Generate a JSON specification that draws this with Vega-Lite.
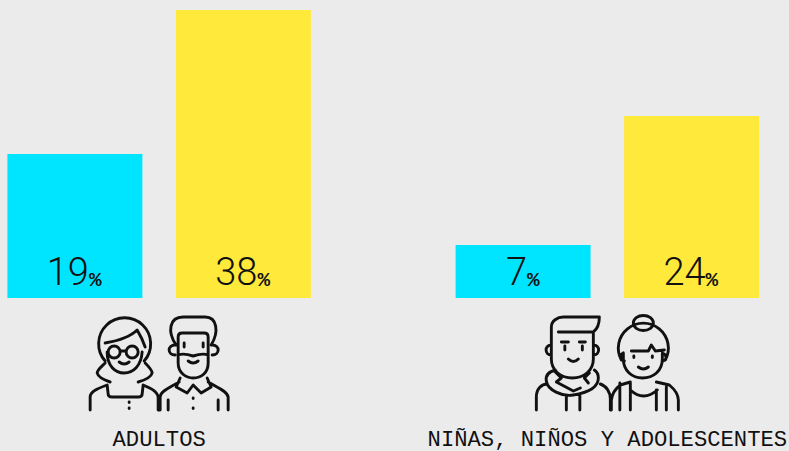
{
"$schema":"https://vega.github.io/schema/vega-lite/v6.json",
"width":766.5,"height":288,
"autosize":{"type":"none"},
"padding":{"left":0,"right":22.5,"top":10,"bottom":153},
"background":"#ebebeb",
"config":{"view":{"stroke":null}},
"datasets":{
"bars":[
{"grupo":"ADULTOS","serie":"A","valor":19},
{"grupo":"ADULTOS","serie":"B","valor":38},
{"grupo":"NIÑAS, NIÑOS Y ADOLESCENTES","serie":"A","valor":7},
{"grupo":"NIÑAS, NIÑOS Y ADOLESCENTES","serie":"B","valor":24}],
"iconos":[{"grupo":"ADULTOS"},{"grupo":"NIÑAS, NIÑOS Y ADOLESCENTES"}]
},
"encoding":{
"x":{"field":"grupo","type":"nominal","sort":null,"title":null,
"scale":{"type":"band","paddingInner":0.3228,"paddingOuter":0.0165},
"axis":{"domain":false,"ticks":false,"grid":false,"labelAngle":0,"labelPadding":129,"labelFont":"Liberation Mono","labelFontSize":22.2,"labelColor":"#111111","labelBaseline":"top","labelBound":false,"labelFlush":false,"labelOverlap":false,"labelLimit":0}},
"y":{"type":"quantitative","scale":{"domain":[0,38]},"axis":null}
},
"layer":[
{"data":{"name":"bars"},"mark":{"type":"bar"},
"encoding":{"xOffset":{"field":"serie","type":"nominal","scale":{"paddingInner":0.199,"paddingOuter":0}},
"y":{"field":"valor","type":"quantitative","scale":{"domain":[0,38]},"axis":null},
"color":{"field":"serie","type":"nominal","legend":null,"scale":{"domain":["A","B"],"range":["#00e5ff","#ffe93b"]}}}},
{"data":{"name":"bars"},"transform":[{"filter":"datum.valor>=10"}],
"mark":{"type":"text","font":"Roboto","fontWeight":300,"fontSize":38,"align":"right","baseline":"alphabetic","dx":14,"dy":-13,"color":"#111111"},
"encoding":{"xOffset":{"field":"serie","type":"nominal","scale":{"paddingInner":0.199,"paddingOuter":0}},"y":{"datum":0},"text":{"field":"valor","type":"nominal"}}},
{"data":{"name":"bars"},"transform":[{"filter":"datum.valor<10"}],
"mark":{"type":"text","font":"Roboto","fontWeight":300,"fontSize":38,"align":"right","baseline":"alphabetic","dx":4,"dy":-13,"color":"#111111"},
"encoding":{"xOffset":{"field":"serie","type":"nominal","scale":{"paddingInner":0.199,"paddingOuter":0}},"y":{"datum":0},"text":{"field":"valor","type":"nominal"}}},
{"data":{"name":"bars"},"transform":[{"filter":"datum.valor>=10"}],
"mark":{"type":"text","font":"Liberation Mono","fontWeight":700,"fontSize":21,"align":"left","baseline":"alphabetic","dx":14,"dy":-12,"color":"#111111","text":"%"},
"encoding":{"xOffset":{"field":"serie","type":"nominal","scale":{"paddingInner":0.199,"paddingOuter":0}},"y":{"datum":0}}},
{"data":{"name":"bars"},"transform":[{"filter":"datum.valor<10"}],
"mark":{"type":"text","font":"Liberation Mono","fontWeight":700,"fontSize":21,"align":"left","baseline":"alphabetic","dx":4,"dy":-12,"color":"#111111","text":"%"},
"encoding":{"xOffset":{"field":"serie","type":"nominal","scale":{"paddingInner":0.199,"paddingOuter":0}},"y":{"datum":0}}},
{"data":{"name":"iconos"},
"mark":{"type":"point","filled":false,"size":4,"yOffset":66,"stroke":"#111111","strokeWidth":2.9,"opacity":1,"strokeCap":"round","strokeJoin":"round"},
"encoding":{"y":{"datum":0},
"shape":{"field":"grupo","type":"nominal","legend":null,"scale":{"domain":["ADULTOS","NIÑAS, NIÑOS Y ADOLESCENTES"],"range":[
"M-54,-3 A26,26 0 1 1 -15,-3 M-54,-1 C-58,3 -62,6 -62,9 C-61,13 -55,16 -49,18 M-14,-1 C-10,3 -7,6 -7,9 C-8,13 -14,16 -21,18 M-54,-21 C-42,-23 -30,-26 -22,-34 C-19,-29 -16,-23 -14,-17 M-52,-12 C-52,2 -44,9 -35,9 C-26,9 -18,2 -17,-12 M-39,-12 A6,6 0 1 1 -51,-12 A6,6 0 1 1 -39,-12 M-21,-12 A6,6 0 1 1 -33,-12 A6,6 0 1 1 -21,-12 M-39,-13 L-33,-13 M-40,-2 Q-35,2 -30,-2 M-69,46 L-69,33 C-69,27 -60,24 -52,21 L-51,30 Q-51,33 -47,33 L-21,33 Q-17,33 -17,30 L-16,21 C-9,24 -2,27 -1,33 L-1,46 M-30,38 L-30,38.5 M-30,44 L-30,44.5 M17,-19 C8,-32 10,-47 24,-47 L46,-47 C58,-47 60,-32 52,-19 M16,-19 C8,-19 8,-9 16,-9 M53,-19 C61,-19 61,-9 53,-9 M19,-19 L19,-27 Q19,-31 23,-31 L45,-31 Q49,-31 49,-27 L49,-19 M19,-19 L19,-1 C19,9 27,14 34,14 C42,14 49,9 49,-1 L49,-19 M19,-9 C24,-11 28,-10 34,-8 C40,-10 44,-11 49,-9 M25,-21 L25,-17 M44,-21 L44,-17 M29,-3 Q34,1 39,-3 M1,46 L1,33 C1,27 12,23 20,18 M21,14 L17,23 L28,29 L34,21 L42,29 L52,23 L48,14 M49,18 C57,23 68,27 69,33 L69,46 M9,46 L9,36 M59,46 L59,36 M34,34 L34,34.5 M34,44 L34,44.5",
"M-56,-19 L-56,-37 C-56,-43 -50,-47 -44,-47 L-8,-47 C-8,-40 -10,-35 -14,-32 L-49,-32 M-14,-32 L-14,-19 M-56,-19 C-63,-19 -63,-9 -56,-9 M-14,-19 C-7,-19 -7,-9 -14,-9 M-56,-19 L-56,-5 C-56,7 -46,14 -35,14 C-24,14 -14,7 -14,-5 L-14,-19 M-42.5,-18 L-42.5,-14 M-25,-18 L-25,-14 M-46,-22 L-39,-22 M-28,-22 L-22,-22 M-39,-5 Q-34,0 -29,-5 M-52,6 C-59,8 -62,12 -61,17 C-60,26 -45,33 -34,31 C-22,29 -9,24 -9,14 C-9,11 -10,8 -13,6 M-52,8 L-46,14 L-51,18 L-34,27 L-27,24 M-23,14 L-18,9 M-23,14 L-19,19 M-71,46 L-71,33 C-71,25 -66,20 -60,20 M-7,20 C-1,22 3,28 3,35 L3,46 M-41,32 L-41,46 M-27.5,31 L-27.5,46 M26,-41 A10,7.5 0 1 1 46,-41 A10,7.5 0 1 1 26,-41 Z M14,-4 A25,25 0 1 1 58,-4 M24,-13 L41,-13 L44,-19 L48,-13 L57,-14 M16,-11 C12,-9 12,-4 17,-3 M55,-11 C60,-9 60,-4 55,-3 M16,-11 L16,-5 C16,7 25,14 35,14 C46,14 55,7 55,-5 L55,-11 M26.5,-8 L26.5,-6.5 M45,-8 L45,-6.5 M31,3 Q36,7 41,3 M4,46 L4,36 C5,28 9,24 13,21 L23,18 M23,26 Q36,38 50,26 M49,18 L62,21 C68,26 71,31 71,36 L71,46 M12.5,19 L12.5,46 M23,19 L23,46 M49,26 L49,46 M59,23 L59,46"
]}}}}
]
}
